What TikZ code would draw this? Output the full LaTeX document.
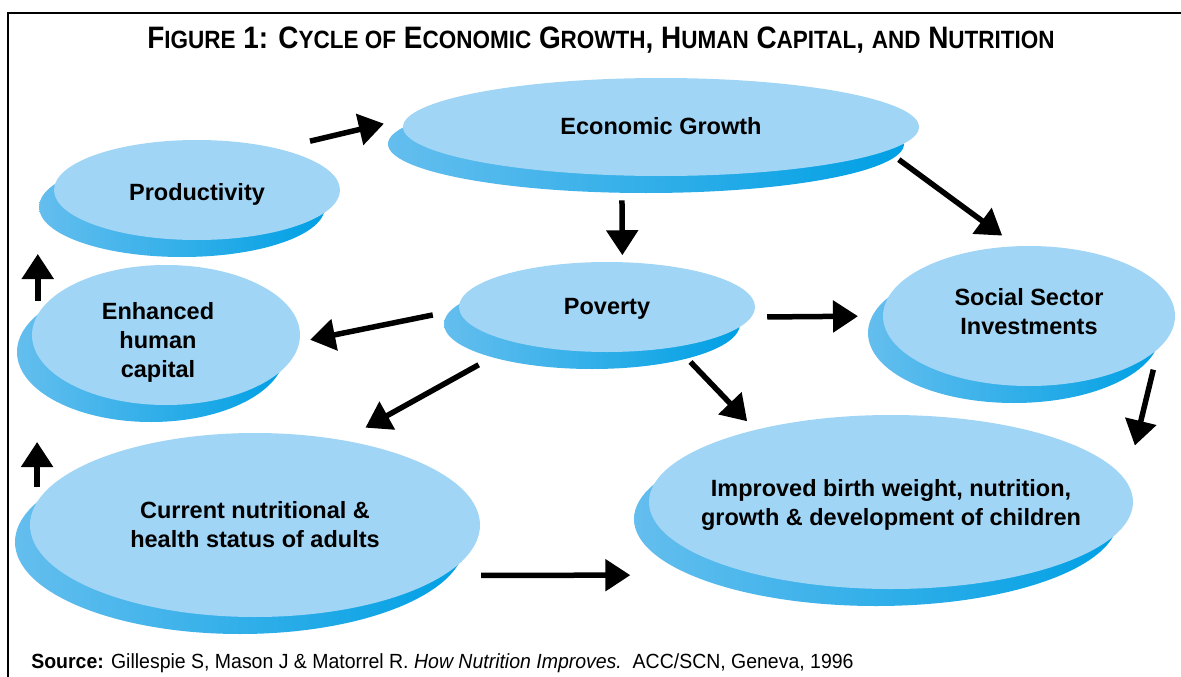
\documentclass[tikz,border=0pt]{standalone}
\usepackage{fontspec}
\setmainfont{Liberation Sans}
\usepackage{tikz}
\usetikzlibrary{shapes.geometric, arrows.meta, positioning, calc}
\definecolor{discfront}{RGB}{160,213,245}
\definecolor{discleft}{RGB}{100,190,238}
\definecolor{discmid}{RGB}{0,176,240}
\definecolor{discright}{RGB}{0,160,228}
\newcommand\smallcap[2]{{\fontsize{31}{33}\selectfont #1}{\fontsize{25}{33}\selectfont #2}}
\tikzset{
    base/.style={font=\fontsize{23.5}{29}\selectfont\bfseries, align=center, text=black},
    disc/.style 2 args={ellipse, fill=discfront, inner sep=0pt, outer sep=0pt,
        preaction={left color=discleft, middle color=discmid, right color=discright,
            transform canvas={xshift=-15pt, yshift=-17pt}},
        label={[base, #2]center:{#1}}},
    line/.style={draw=black, line width=5.5pt, -{Triangle[length=25pt, width=31pt]}},
    frame/.style={draw=black, line width=2.5pt}
}

\begin{document}
\begin{tikzpicture}[x=1pt, y=-1pt]
    \useasboundingbox (0,0) rectangle (1181,677);
    \draw [frame] (8,677) -- (8,13) -- (1181,13);

    \node [font=\fontsize{31}{33}\selectfont\bfseries, xscale=0.9] (title) at (601,40)
        {\smallcap{F}{IGURE} 1: \smallcap{C}{YCLE OF} \smallcap{E}{CONOMIC} \smallcap{G}{ROWTH}, \smallcap{H}{UMAN} \smallcap{C}{APITAL}, {\fontsize{25}{33}\selectfont AND} \smallcap{N}{UTRITION}};

    \node [disc={Economic Growth}{yshift=1pt}, minimum width=516pt, minimum height=98pt] (econ) at (661,127) {};
    \node [disc={Productivity}{yshift=-4pt}, minimum width=286pt, minimum height=100pt] (prod) at (197,190) {};
    \node [disc={Enhanced\\human\\capital}{xshift=-8pt, yshift=-7pt}, minimum width=268pt, minimum height=140pt] (human) at (166,335) {};
    \node [disc={Poverty}{yshift=-2pt}, minimum width=296pt, minimum height=90pt] (pov) at (607,307) {};
    \node [disc={Social Sector\\Investments}{yshift=4pt}, minimum width=292pt, minimum height=140pt] (social) at (1029,316) {};
    \node [disc={Current nutritional \&\\health status of adults}{}, minimum width=450pt, minimum height=184pt] (adult) at (255,525) {};
    \node [disc={Improved birth weight, nutrition,\\growth \& development of children}{yshift=-3pt}, minimum width=484pt, minimum height=174pt] (child) at (891,502) {};

    \draw [line, shorten <=33pt, shorten >=24pt] (prod.27.9) -- (econ.178.1);
    \draw [line, shorten <=25pt, shorten >=7pt] (econ.231.1) -- (pov.71.5);
    \draw [line, shorten <=15pt, shorten >=18pt] (econ.354.7) -- (social.100.6);
    \draw [line, shorten <=27pt, shorten >=11pt] (pov.181.5) -- (human.357);
    \draw [line, shorten <=16pt, shorten >=25pt] (pov.356.5) -- (social.180.5);
    \draw [line, shorten <=45pt, shorten >=26pt] (pov.202.6) -- (adult.44);
    \draw [line, shorten <=21pt, shorten >=12pt] (pov.330.1) -- (child.152.7);
    \draw [line, shorten <=22pt, shorten >=37pt] (social.346.8) -- (child.5.8);
    \draw [line, shorten <=38pt, shorten >=129pt] (adult.345.2) -- (child.209);
    \draw [line, shorten <=14pt, shorten >=14pt] (human.171.7) -- (human.171.7 |- prod.south);
    \draw [line, shorten <=15pt, shorten >=37pt] (adult.174) -- (adult.174 |- human.south);

    \node [anchor=base west, xscale=0.95, font=\fontsize{20.5}{22}\selectfont] (source) at (28,668)
        {\textbf{Source:} Gillespie S, Mason J \& Matorrel R. \textit{How Nutrition Improves.}\ \ ACC/SCN, Geneva, 1996};
\end{tikzpicture}
\end{document}
